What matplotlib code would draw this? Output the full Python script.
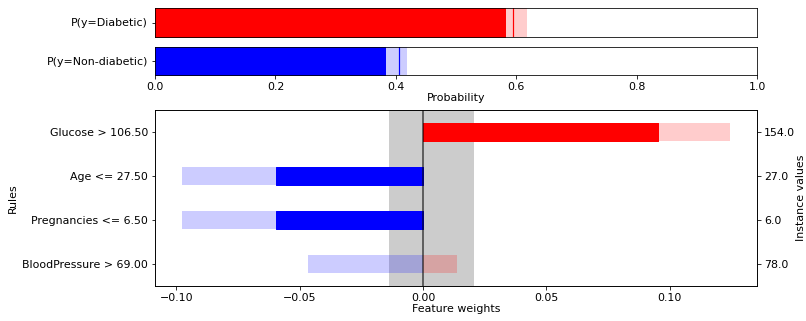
import matplotlib
matplotlib.use('Agg')
import matplotlib.pyplot as plt

# prediction probabilities (Diabetic class)
proba_low = 0.581
proba_pred = 0.595
proba_high = 0.618

# rules, bottom to top
rules = ['BloodPressure > 69.00', 'Pregnancies <= 6.50', 'Age <= 27.50', 'Glucose > 106.50']
instance_values = ['78.0', '6.0', '27.0', '154.0']
weight_low = [-0.0466, -0.0976, -0.0976, 0.0951]
weight_high = [0.0138, -0.0595, -0.0595, 0.1243]
band_low = -0.0140
band_high = 0.0206

plt.rcParams['font.size'] = 11

W, H = 806, 321
fig = plt.figure(figsize=(W / 72, H / 72), dpi=72)

left, right = 155 / W, 757 / W
ax_p1 = fig.add_axes([left, 1 - 37 / H, right - left, 29 / H])
ax_p2 = fig.add_axes([left, 1 - 75 / H, right - left, 28 / H])
ax = fig.add_axes([left, 1 - 286 / H, right - left, 176 / H])

# top: P(y=Diabetic)
ax_p1.fill_betweenx([0, 1], 0, proba_low, color='r')
ax_p1.fill_betweenx([0, 1], proba_low, proba_high, color='r', alpha=0.2, lw=0)
ax_p1.axvline(proba_pred, color='r', lw=1.2)
ax_p1.set_xlim(0, 1)
ax_p1.set_ylim(0, 1)
ax_p1.set_yticks([0.5])
ax_p1.set_yticklabels(['P(y=Diabetic)'])
ax_p1.set_xticks([])

# P(y=Non-diabetic)
ax_p2.fill_betweenx([0, 1], 0, 1 - proba_high, color='b')
ax_p2.fill_betweenx([0, 1], 1 - proba_high, 1 - proba_low, color='b', alpha=0.2, lw=0)
ax_p2.axvline(1 - proba_pred, color='b', lw=1.2)
ax_p2.set_xlim(0, 1)
ax_p2.set_ylim(0, 1)
ax_p2.set_yticks([0.5])
ax_p2.set_yticklabels(['P(y=Non-diabetic)'])
ax_p2.set_xticks([0, 0.2, 0.4, 0.6, 0.8, 1.0])
ax_p2.set_xlabel('Probability', labelpad=1)

# feature weights
n = len(rules)
ax.fill_betweenx([-0.5, n - 0.5], band_low, band_high, color='k', alpha=0.2, lw=0)
h = 0.2
for i in range(n):
    lo, hi = weight_low[i], weight_high[i]
    if lo < 0 < hi:
        ax.fill_betweenx([i - h, i + h], lo, 0, color='b', alpha=0.2, lw=0)
        ax.fill_betweenx([i - h, i + h], 0, hi, color='r', alpha=0.2, lw=0)
    elif hi <= 0:
        ax.fill_betweenx([i - h, i + h], lo, hi, color='b', alpha=0.2, lw=0)
        ax.fill_betweenx([i - h, i + h], hi, 0, color='b')
    else:
        ax.fill_betweenx([i - h, i + h], lo, hi, color='r', alpha=0.2, lw=0)
        ax.fill_betweenx([i - h, i + h], 0, lo, color='r')

xmin = min(weight_low)
xmax = max(weight_high)
pad = 0.05 * (xmax - xmin)
ax.set_xlim(xmin - pad, xmax + pad)
ax.set_ylim(-0.5, n - 0.5)
ax.axvline(0, color='k', lw=1.5, alpha=0.7)
ax.set_yticks(range(n))
ax.set_yticklabels(rules)
ax.set_ylabel('Rules')
ax.set_xlabel('Feature weights', labelpad=1)

ax2 = ax.twinx()
ax2.set_ylim(ax.get_ylim())
ax2.set_yticks(range(n))
ax2.set_yticklabels(instance_values)
ax2.set_ylabel('Instance values', labelpad=1)

fig.savefig('out.png', dpi=72)
